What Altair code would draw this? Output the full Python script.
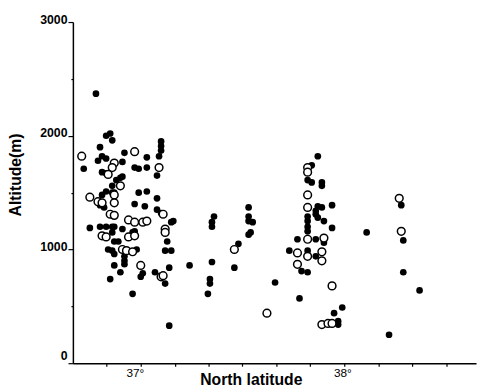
import altair as alt
import pandas as pd

# Filled (black) points: latitude (deg N), altitude (m)
filled_lat = [36.78, 36.83, 36.85, 36.86, 36.80, 36.72, 36.81, 36.83, 36.79, 36.92,
              37.03, 36.91, 36.97, 36.99, 37.03, 37.08, 37.10, 37.10, 37.10, 37.09,
              36.81, 36.83, 36.86, 36.88, 36.90, 36.91, 36.86, 36.87, 36.83, 36.81,
              36.99, 37.03, 37.08, 36.97, 37.02, 36.80, 36.82, 37.08, 37.10, 37.15,
              37.16, 36.75, 36.80, 36.83, 36.86, 36.87, 36.91, 36.97, 36.96, 36.86,
              36.87, 36.89, 37.13, 36.84, 36.86, 36.98, 36.87, 36.92, 36.92, 36.92,
              37.12, 37.15, 36.87, 36.90, 36.85, 37.00, 37.01, 37.07, 37.12, 37.14,
              36.96, 37.14, 37.24, 37.53, 37.36, 37.35, 37.35, 37.53, 37.53, 37.55,
              37.54, 37.53, 37.48, 37.35, 37.46, 37.34, 37.34, 37.33, 37.66, 37.87,
              37.84, 37.82, 37.84, 37.89, 37.89, 37.87, 37.89, 37.86, 37.94, 37.82,
              37.82, 37.86, 37.87, 37.90, 37.94, 37.82, 37.82, 37.77, 37.86, 37.90,
              37.73, 37.82, 37.86, 37.79, 37.82, 38.11, 37.78, 37.99, 37.95, 37.97,
              37.97, 38.28, 38.29, 38.29, 38.37, 38.22]
filled_alt = [2370, 2000, 2020, 1960, 1900, 1710, 1820, 1800, 1780, 1850,
              1810, 1770, 1720, 1710, 1720, 1650, 1950, 1910, 1870, 1820,
              1680, 1670, 1560, 1610, 1630, 1640, 1500, 1500, 1510, 1480,
              1500, 1510, 1450, 1400, 1380, 1390, 1370, 1350, 1320, 1240,
              1250, 1190, 1200, 1200, 1200, 1200, 1180, 1160, 1150, 1150,
              1070, 1070, 1070, 1000, 990, 1000, 960, 940, 900, 870,
              990, 990, 860, 800, 740, 760, 790, 800, 700, 840,
              610, 330, 860, 1370, 1290, 1240, 1200, 1290, 1250, 1240,
              1150, 1130, 1050, 890, 840, 740, 700, 610, 710, 1820,
              1740, 1610, 1590, 1590, 1560, 1380, 1370, 1340, 1390, 1290,
              1250, 1310, 1280, 1250, 1190, 1200, 1160, 1090, 1090, 1060,
              990, 990, 940, 810, 800, 1150, 570, 490, 440, 370,
              340, 1390, 1080, 800, 640, 250]

# Open (white) circles
open_lat = [36.71, 36.97, 36.87, 36.86, 36.84, 36.90, 36.75, 36.87, 37.09, 36.79,
            36.81, 36.87, 37.11, 36.85, 36.87, 36.94, 36.97, 37.01, 37.03, 36.81,
            36.83, 36.94, 36.97, 37.12, 37.12, 36.91, 36.93, 36.96, 37.00, 37.10,
            37.11, 37.46, 37.62, 37.82, 37.82, 37.82, 37.82, 37.82, 37.90, 37.77,
            37.89, 37.82, 37.77, 37.89, 37.94, 37.89, 37.92, 37.94, 38.27, 38.28]
open_alt = [1820, 1860, 1760, 1720, 1660, 1560, 1460, 1480, 1720, 1420,
            1410, 1410, 1310, 1310, 1300, 1260, 1240, 1240, 1250, 1120,
            1110, 1110, 1120, 1180, 1150, 1000, 990, 980, 860, 760,
            770, 1000, 440, 1720, 1680, 1480, 1370, 1090, 1100, 970,
            980, 940, 870, 900, 680, 340, 350, 350, 1450, 1160]

x_ticks = [36.8333, 37.0, 37.1667, 37.3333, 37.5, 37.6667, 37.8333, 38.0,
           38.1667, 38.3333, 38.5]
y_ticks = [0, 500, 1000, 1500, 2000, 2500, 3000]

filled_df = pd.DataFrame({"lat": filled_lat, "alt": filled_alt})
open_df = pd.DataFrame({"lat": open_lat, "alt": open_alt})

FONT = "Liberation Sans"

x_axis = alt.Axis(
    values=x_ticks,
    labelExpr="abs(datum.value-37)<0.01 ? '37°' : (abs(datum.value-38)<0.01 ? '38°' : '')",
    grid=False, domainColor="black", domainWidth=1.5,
    tickColor="black", tickSize=3, tickWidth=1.2,
    labelFont=FONT, labelFontSize=12, labelColor="black",
    labelBaseline="top", labelPadding=2,
    labelOffset={"condition": {"test": "datum.value < 37.5", "value": -6}, "value": -2},
    title="North latitude", titleFont=FONT, titleFontSize=16, titleFontWeight="bold",
    titleColor="black", titleX=181, titleY=22, titleBaseline="alphabetic",
    titleAnchor="start", titleAlign="center",
)
y_axis = alt.Axis(
    values=y_ticks, format="d",
    labelExpr="datum.value % 1000 == 0 ? datum.label : ''",
    grid=False, domainColor="black", domainWidth=1.5,
    tickColor="black", tickWidth=1.2,
    tickSize={"condition": {"test": "datum.value % 1000 == 0", "value": 5}, "value": 2},
    labelFont=FONT, labelFontSize=12.5, labelFontWeight="bold", labelColor="black",
    labelPadding=1,
    labelOffset={"condition": {"test": "datum.value == 0", "value": -8}, "value": -3},
    title="Altitude(m)", titleFont=FONT, titleFontSize=16, titleFontWeight="bold",
    titleColor="black", titleX=-58, titleY=155, titleBaseline="middle",
    titleAlign="center", titleAngle=270,
)

x_enc = alt.X("lat:Q", scale=alt.Scale(domain=[36.6667, 38.6473], nice=False, zero=False), axis=x_axis)
y_enc = alt.Y("alt:Q", scale=alt.Scale(domain=[0, 3000], nice=False), axis=y_axis)

filled = alt.Chart(filled_df).mark_circle(size=46, color="black", opacity=1).encode(x=x_enc, y=y_enc)
opened = alt.Chart(open_df).mark_point(
    shape="circle", filled=True, fill="white", stroke="black", strokeWidth=1.5,
    size=62, opacity=1, fillOpacity=1,
).encode(x=x_enc, y=y_enc)

chart = alt.layer(filled, opened).properties(
    width=410, height=347,
    padding={"left": 66, "top": 11, "right": 1, "bottom": 26},
    autosize=alt.AutoSizeParams(type="none"),
    background="white",
).configure_view(stroke=None)

chart.save("out.html", embed_options={"renderer": "svg", "actions": False})
